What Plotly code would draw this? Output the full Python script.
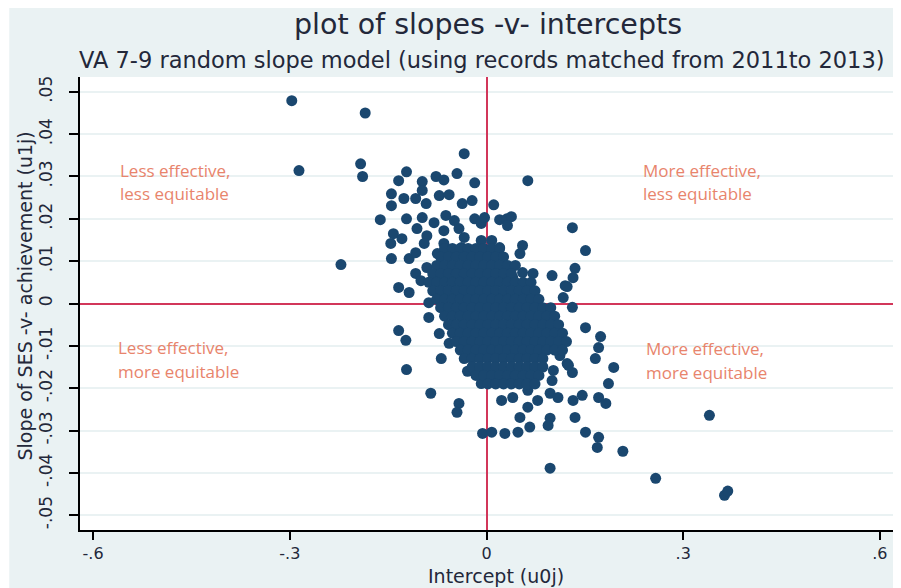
import plotly.graph_objects as go

# schools that can be picked out one by one
intercept_pts = [
    -0.297, -0.185, -0.286, -0.192, -0.189, -0.034, 0.063, -0.122, -0.134, -0.098,
    -0.077, -0.065, -0.045, -0.018, -0.145, -0.126, -0.108, -0.098, -0.072, -0.057,
    -0.037, -0.022, -0.145, -0.092, 0.011, -0.162, -0.122, -0.098, -0.080, -0.062,
    -0.049, -0.018, -0.008, -0.003, 0.020, 0.031, 0.038, 0.032, 0.131, 0.151,
    -0.142, -0.146, -0.129, -0.106, -0.091, -0.065, -0.042, -0.034, -0.008, -0.095,
    -0.065, -0.038, -0.222, -0.145, -0.118, -0.108, -0.075, -0.049, -0.023, -0.003,
    -0.108, -0.091, -0.134, -0.118, -0.100, -0.080, 0.055, 0.051, 0.008, 0.020,
    0.008, 0.135, 0.132, 0.100, 0.120, 0.117, 0.071, 0.055, 0.040, -0.088,
    -0.088, -0.134, -0.123, -0.072, -0.057, -0.069, -0.122, -0.029, -0.008, -0.085,
    -0.042, -0.045, -0.006, 0.131, 0.151, 0.174, 0.171, 0.166, 0.194, 0.186,
    0.146, 0.132, 0.171, 0.182, 0.135, 0.151, 0.171, 0.169, 0.208, 0.097,
    0.102, 0.100, 0.131, 0.123, 0.112, 0.092, 0.063, 0.078, 0.040, 0.023,
    0.097, 0.109, 0.063, 0.051, 0.097, 0.094, 0.066, 0.048, 0.028, 0.340,
    0.258, 0.363, 0.368, 0.125, 0.123, 0.008,
]
slope_pts = [
    0.0479, 0.0450, 0.0314, 0.0330, 0.0300, 0.0354, 0.0290, 0.0311, 0.0290, 0.0288,
    0.0300, 0.0292, 0.0307, 0.0285, 0.0259, 0.0248, 0.0248, 0.0267, 0.0255, 0.0257,
    0.0236, 0.0243, 0.0231, 0.0236, 0.0233, 0.0198, 0.0200, 0.0203, 0.0191, 0.0208,
    0.0196, 0.0200, 0.0189, 0.0203, 0.0198, 0.0200, 0.0205, 0.0184, 0.0179, 0.0125,
    0.0165, 0.0142, 0.0153, 0.0177, 0.0160, 0.0172, 0.0177, 0.0156, 0.0149, 0.0142,
    0.0142, 0.0132, 0.0092, 0.0106, 0.0106, 0.0120, 0.0118, 0.0118, 0.0113, 0.0118,
    0.0071, 0.0085, 0.0038, 0.0026, 0.0054, 0.0071, 0.0137, 0.0118, 0.0149, 0.0132,
    0.0118, 0.0083, 0.0061, 0.0066, 0.0042, 0.0014, 0.0071, 0.0073, 0.0061, 0.0002,
    -0.0033, -0.0064, -0.0087, -0.0071, -0.0094, -0.0130, -0.0156, -0.0160, -0.0189, -0.0212,
    -0.0236, -0.0257, -0.0307, -0.0009, -0.0057, -0.0078, -0.0104, -0.0130, -0.0151, -0.0189,
    -0.0217, -0.0229, -0.0222, -0.0236, -0.0269, -0.0304, -0.0316, -0.0340, -0.0349, -0.0389,
    -0.0158, -0.0182, -0.0163, -0.0142, -0.0123, -0.0092, -0.0205, -0.0229, -0.0222, -0.0229,
    -0.0212, -0.0222, -0.0245, -0.0269, -0.0271, -0.0288, -0.0292, -0.0304, -0.0307, -0.0264,
    -0.0413, -0.0453, -0.0443, -0.0146, 0.0040, -0.0304,
]

# the dense middle of the cloud (overlapping markers, estimated)
intercept_core = [
    -0.064, -0.052, -0.040, -0.028, -0.016, -0.004, 0.008, 0.020,
    -0.070, -0.058, -0.046, -0.034, -0.022, -0.010, 0.002, 0.014, 0.026,
    -0.076, -0.064, -0.052, -0.040, -0.028, -0.016, -0.004, 0.008, 0.020, 0.032, 0.044,
    -0.082, -0.070, -0.058, -0.046, -0.034, -0.022, -0.010, 0.002, 0.014, 0.026, 0.038,
    -0.088, -0.076, -0.064, -0.052, -0.040, -0.028, -0.016, -0.004, 0.008, 0.020, 0.032, 0.044, 0.056, 0.068,
    -0.082, -0.070, -0.058, -0.046, -0.034, -0.022, -0.010, 0.002, 0.014, 0.026, 0.038, 0.050, 0.062, 0.074,
    -0.076, -0.064, -0.052, -0.040, -0.028, -0.016, -0.004, 0.008, 0.020, 0.032, 0.044, 0.056, 0.068, 0.080,
    -0.070, -0.058, -0.046, -0.034, -0.022, -0.010, 0.002, 0.014, 0.026, 0.038, 0.050, 0.062, 0.074, 0.086, 0.098,
    -0.064, -0.052, -0.040, -0.028, -0.016, -0.004, 0.008, 0.020, 0.032, 0.044, 0.056, 0.068, 0.080, 0.092, 0.104,
    -0.058, -0.046, -0.034, -0.022, -0.010, 0.002, 0.014, 0.026, 0.038, 0.050, 0.062, 0.074, 0.086, 0.098, 0.110,
    -0.052, -0.040, -0.028, -0.016, -0.004, 0.008, 0.020, 0.032, 0.044, 0.056, 0.068, 0.080, 0.092, 0.104, 0.116,
    -0.046, -0.034, -0.022, -0.010, 0.002, 0.014, 0.026, 0.038, 0.050, 0.062, 0.074, 0.086, 0.098, 0.110, 0.122,
    -0.040, -0.028, -0.016, -0.004, 0.008, 0.020, 0.032, 0.044, 0.056, 0.068, 0.080, 0.092, 0.104, 0.116,
    -0.034, -0.022, -0.010, 0.002, 0.014, 0.026, 0.038, 0.050, 0.062, 0.074, 0.086,
    -0.022, -0.010, 0.002, 0.014, 0.026, 0.038, 0.050, 0.062, 0.074, 0.086,
    -0.016, -0.004, 0.008, 0.020, 0.032, 0.044, 0.056, 0.068, 0.080,
    0.002, 0.014, 0.026, 0.038, 0.050, 0.062, 0.074,
]
slope_core = [
    0.013, 0.013, 0.013, 0.013, 0.013, 0.013, 0.013, 0.013,
    0.011, 0.011, 0.011, 0.011, 0.011, 0.011, 0.011, 0.011, 0.011,
    0.009, 0.009, 0.009, 0.009, 0.009, 0.009, 0.009, 0.009, 0.009, 0.009, 0.009,
    0.007, 0.007, 0.007, 0.007, 0.007, 0.007, 0.007, 0.007, 0.007, 0.007, 0.007,
    0.005, 0.005, 0.005, 0.005, 0.005, 0.005, 0.005, 0.005, 0.005, 0.005, 0.005, 0.005, 0.005, 0.005,
    0.003, 0.003, 0.003, 0.003, 0.003, 0.003, 0.003, 0.003, 0.003, 0.003, 0.003, 0.003, 0.003, 0.003,
    0.001, 0.001, 0.001, 0.001, 0.001, 0.001, 0.001, 0.001, 0.001, 0.001, 0.001, 0.001, 0.001, 0.001,
    -0.001, -0.001, -0.001, -0.001, -0.001, -0.001, -0.001, -0.001, -0.001, -0.001, -0.001, -0.001, -0.001, -0.001, -0.001,
    -0.003, -0.003, -0.003, -0.003, -0.003, -0.003, -0.003, -0.003, -0.003, -0.003, -0.003, -0.003, -0.003, -0.003, -0.003,
    -0.005, -0.005, -0.005, -0.005, -0.005, -0.005, -0.005, -0.005, -0.005, -0.005, -0.005, -0.005, -0.005, -0.005, -0.005,
    -0.007, -0.007, -0.007, -0.007, -0.007, -0.007, -0.007, -0.007, -0.007, -0.007, -0.007, -0.007, -0.007, -0.007, -0.007,
    -0.009, -0.009, -0.009, -0.009, -0.009, -0.009, -0.009, -0.009, -0.009, -0.009, -0.009, -0.009, -0.009, -0.009, -0.009,
    -0.011, -0.011, -0.011, -0.011, -0.011, -0.011, -0.011, -0.011, -0.011, -0.011, -0.011, -0.011, -0.011, -0.011,
    -0.013, -0.013, -0.013, -0.013, -0.013, -0.013, -0.013, -0.013, -0.013, -0.013, -0.013,
    -0.015, -0.015, -0.015, -0.015, -0.015, -0.015, -0.015, -0.015, -0.015, -0.015,
    -0.017, -0.017, -0.017, -0.017, -0.017, -0.017, -0.017, -0.017, -0.017,
    -0.019, -0.019, -0.019, -0.019, -0.019, -0.019, -0.019,
]

x_ticks = [-0.6, -0.3, 0, 0.3, 0.6]
x_ticktext = ["-.6", "-.3", "0", ".3", ".6"]
y_ticks = [-0.05, -0.04, -0.03, -0.02, -0.01, 0, 0.01, 0.02, 0.03, 0.04, 0.05]
y_ticktext = ["-.05", "-.04", "-.03", "-.02", "-.01", "0", ".01", ".02", ".03", ".04", ".05"]

quad_lines = ["Less effective,", "less equitable", "More effective,", "less equitable",
              "Less effective,", "more equitable", "More effective,", "more equitable"]

BG = "#eaf2f3"
NAVY = "#1a476f"
RED = "#d2365a"
SALMON = "#e8846c"
INK = "#23283a"
FONT = "DejaVu Sans"

fig = go.Figure()
fig.add_trace(go.Scatter(
    x=intercept_pts + intercept_core,
    y=slope_pts + slope_core,
    mode="markers",
    marker=dict(color=NAVY, size=11, line=dict(width=0)),
    hoverinfo="x+y",
    showlegend=False,
))

# quadrant labels
qx = [-0.562, -0.562, 0.235, 0.235, -0.565, -0.565, 0.240, 0.240]
qy = [0.0314, 0.0259, 0.0314, 0.0259, -0.0104, -0.0160, -0.0106, -0.0163]
annots = []
for t, ax_, ay_ in zip(quad_lines, qx, qy):
    annots.append(dict(x=ax_, y=ay_, xref="x", yref="y", text=t, showarrow=False,
                       xanchor="left", yanchor="middle",
                       font=dict(family="Open Sans", size=17, color=SALMON)))

# titles
annots.append(dict(x=0.502, y=1.115, xref="paper", yref="paper", yanchor="middle",
                   text="plot of slopes -v- intercepts", showarrow=False,
                   font=dict(family=FONT, size=28.5, color=INK)))
annots.append(dict(x=0.494, y=1.038, xref="paper", yref="paper", yanchor="middle",
                   text="VA 7-9 random slope model (using records matched from 2011to 2013)",
                   showarrow=False,
                   font=dict(family=FONT, size=22.5, color=INK)))
annots.append(dict(x=0.512, y=-0.102, xref="paper", yref="paper", yanchor="middle",
                   text="Intercept (u0j)", showarrow=False,
                   font=dict(family=FONT, size=19, color=INK)))
annots.append(dict(x=-0.068, y=0.517, xref="paper", yref="paper",
                   xanchor="center", yanchor="middle", textangle=-90,
                   text="Slope of SES -v- achievement (u1j)", showarrow=False,
                   font=dict(family=FONT, size=19, color=INK)))

# the page body adds an 8px offset, so the figure is 8px smaller each way
fig.update_layout(
    width=893, height=580,
    margin=dict(l=72, r=8, t=69, b=58),
    paper_bgcolor="white",
    plot_bgcolor="rgba(0,0,0,0)",
    annotations=annots,
    shapes=[
        dict(type="rect", xref="paper", yref="paper", x0=-0.087, x1=1.05, y0=-0.2, y1=1.2,
             fillcolor=BG, line=dict(width=0), layer="below"),
        dict(type="rect", xref="paper", yref="paper", x0=0, x1=1, y0=0, y1=1,
             fillcolor="white", line=dict(width=0), layer="below"),
    ],
)

fig.update_xaxes(
    range=[-0.62, 0.62], tickvals=x_ticks, ticktext=x_ticktext, automargin=False,
    showgrid=False, zeroline=True, zerolinecolor=RED, zerolinewidth=2,
    showline=True, linecolor="black", linewidth=1.5,
    ticks="outside", ticklen=8, tickwidth=1.5, tickcolor="black", ticklabelstandoff=0,
    tickfont=dict(family=FONT, size=16, color=INK),
)
fig.update_yaxes(
    range=[-0.0535, 0.0535], tickvals=y_ticks, ticktext=y_ticktext, tickangle=-90,
    automargin=False,
    showgrid=True, gridcolor=BG, gridwidth=2,
    zeroline=True, zerolinecolor=RED, zerolinewidth=2,
    showline=True, linecolor="black", linewidth=1.5,
    ticks="outside", ticklen=9, tickwidth=1.5, tickcolor="black", ticklabelstandoff=10,
    tickfont=dict(family=FONT, size=17, color=INK),
)

fig.write_html("out.html")
